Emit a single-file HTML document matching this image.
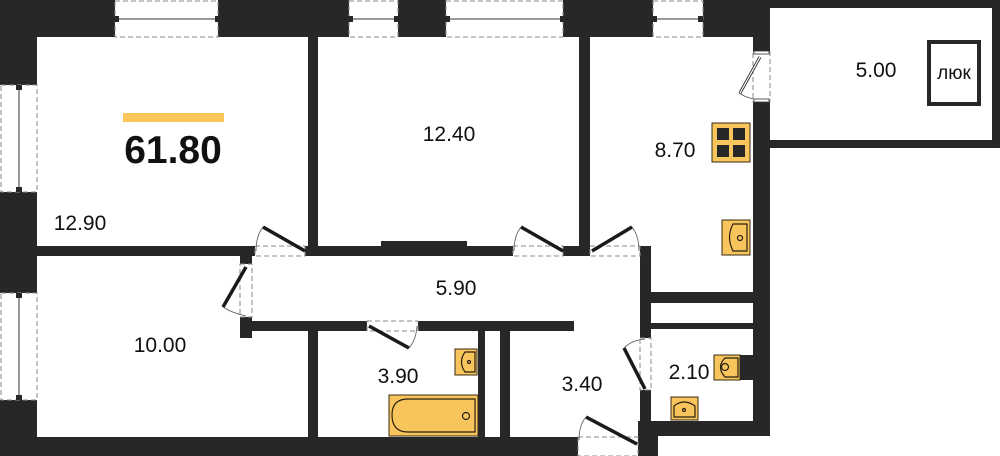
<!DOCTYPE html>
<html><head><meta charset="utf-8"><style>
html,body{margin:0;padding:0;background:#fff;}
svg{display:block;}
text{font-family:"Liberation Sans","DejaVu Sans",sans-serif;fill:#111;}
</style></head><body>
<svg width="1000" height="456" viewBox="0 0 1000 456" xmlns="http://www.w3.org/2000/svg">
<g fill="#272727">
<!-- top wall -->
<rect x="0" y="0" width="115" height="37"/>
<rect x="218" y="0" width="131" height="37"/>
<rect x="398" y="0" width="48" height="37"/>
<rect x="563" y="0" width="90" height="37"/>
<rect x="703" y="0" width="67" height="37"/>
<!-- balcony -->
<rect x="703" y="0" width="297" height="8"/>
<rect x="992" y="0" width="8" height="148"/>
<rect x="753" y="140" width="247" height="8"/>
<rect x="753" y="0" width="17" height="52"/>
<rect x="753" y="102" width="17" height="334"/>
<!-- left wall -->
<rect x="0" y="0" width="37" height="85"/>
<rect x="0" y="192" width="37" height="101"/>
<rect x="0" y="400" width="37" height="56"/>
<!-- bottom wall -->
<rect x="0" y="437" width="578" height="19"/>
<rect x="638" y="421" width="20" height="35"/>
<rect x="640" y="421" width="130" height="15"/>
<!-- interior -->
<rect x="308" y="37" width="10" height="219"/>
<rect x="579" y="37" width="11" height="219"/>
<rect x="37" y="246" width="218" height="10"/>
<rect x="305" y="246" width="208" height="10"/>
<rect x="381" y="241" width="86" height="6"/>
<rect x="563" y="246" width="27" height="10"/>
<rect x="640" y="246" width="11" height="92"/>
<rect x="640" y="390" width="11" height="47"/>
<rect x="651" y="292" width="102" height="11"/>
<rect x="651" y="323" width="102" height="6"/>
<rect x="240" y="256" width="12" height="8"/>
<rect x="240" y="317" width="12" height="21"/>
<rect x="240" y="321" width="127" height="10"/>
<rect x="418" y="321" width="156" height="10"/>
<rect x="308" y="331" width="10" height="106"/>
<rect x="478" y="331" width="7" height="106"/>
<rect x="500" y="331" width="10" height="106"/>
</g>
<!-- windows -->
<g fill="none" stroke="#888" stroke-width="1" stroke-dasharray="5,3">
<rect x="115" y="1" width="103" height="36"/>
<rect x="349" y="1" width="49" height="36"/>
<rect x="446" y="1" width="117" height="36"/>
<rect x="653" y="1" width="50" height="36"/>
<rect x="1" y="85" width="36" height="107"/>
<rect x="1" y="293" width="36" height="107"/>
<!-- door openings -->
<rect x="255" y="246" width="50" height="10"/>
<rect x="513" y="246" width="50" height="10"/>
<rect x="590" y="246" width="50" height="10"/>
<rect x="240" y="264" width="12" height="53"/>
<rect x="367" y="321" width="51" height="10"/>
<rect x="578" y="437" width="60" height="19"/>
<rect x="640" y="338" width="11" height="52"/>
<rect x="753" y="52" width="17" height="50"/>
</g>
<g stroke="#333" stroke-width="1">
<line x1="118" y1="19" x2="215" y2="19"/>
<line x1="352" y1="19" x2="395" y2="19"/>
<line x1="449" y1="19" x2="560" y2="19"/>
<line x1="656" y1="19" x2="700" y2="19"/>
<line x1="19" y1="88" x2="19" y2="189"/>
<line x1="19" y1="296" x2="19" y2="397"/>
</g>
<g fill="#272727">
<rect x="114" y="16" width="5" height="6"/><rect x="215" y="16" width="5" height="6"/>
<rect x="348" y="16" width="5" height="6"/><rect x="394" y="16" width="5" height="6"/>
<rect x="445" y="16" width="5" height="6"/><rect x="560" y="16" width="5" height="6"/>
<rect x="652" y="16" width="5" height="6"/><rect x="698" y="16" width="5" height="6"/>
<rect x="16" y="85" width="6" height="5"/><rect x="16" y="187" width="6" height="5"/>
<rect x="16" y="293" width="6" height="5"/><rect x="16" y="395" width="6" height="5"/>
</g>
<!-- door leaves -->
<g stroke="#1a1a1a" stroke-width="3.5" stroke-linecap="butt">
<line x1="305" y1="251" x2="263" y2="227"/>
<line x1="563" y1="251" x2="521" y2="227"/>
<line x1="592" y1="251" x2="632" y2="227"/>
<line x1="246" y1="267" x2="223" y2="307"/>
<line x1="369" y1="326" x2="409" y2="348"/>
<line x1="637" y1="444" x2="586" y2="417"/>
<line x1="645" y1="389" x2="624" y2="348"/>
</g>
<g fill="none" stroke="#555" stroke-width="0.8">
<path d="M263 227 Q256 236 256 251"/>
<path d="M521 227 Q514 236 514 251"/>
<path d="M632 227 Q639 236 639 251"/>
<path d="M223 307 Q232 313 246 316"/>
<path d="M409 348 Q416 340 417 326"/>
<path d="M586 417 Q579 425 579 440"/>
<path d="M624 348 Q632 340 645 339"/>
<path d="M739 93 Q748 99 760 100"/>
</g>
<line x1="760" y1="57" x2="740" y2="93" stroke="#333" stroke-width="3"/>
<line x1="760" y1="57" x2="740" y2="93" stroke="#fff" stroke-width="1.2"/>
<rect x="754" y="51" width="15" height="3" fill="#fff" stroke="#333" stroke-width="0.8"/>
<rect x="754" y="99" width="15" height="3" fill="#fff" stroke="#333" stroke-width="0.8"/>
<!-- fixtures -->
<g stroke="#3a2a10" stroke-width="1">
<rect x="712" y="123" width="38" height="39" fill="#f7c55c"/>
<rect x="417" y="376" width="0" height="0"/>
</g>
<g fill="#272727">
<rect x="717" y="128" width="12" height="12"/><rect x="733" y="128" width="12" height="12"/>
<rect x="717" y="145" width="12" height="12"/><rect x="733" y="145" width="12" height="12"/>
</g>
<g fill="#f7c55c" stroke="#3a2a10" stroke-width="1">
<rect x="722" y="220" width="28" height="35"/>
<rect x="455" y="349" width="22" height="26"/>
<rect x="389" y="395" width="89" height="41"/>
<rect x="714" y="355" width="26" height="25"/>
<rect x="671" y="397" width="27" height="23"/>
</g>
<g fill="none" stroke="#2a2010" stroke-width="1.2">
<path d="M747 224 L733 224 Q726 237 733 251 L747 251 Z"/>
<path d="M475 352 L465 352 Q458 362 465 372 L475 372 Z"/>
<path d="M475 399 L408 399 Q392 399 392 415 Q392 432 408 432 L475 432 Z"/>
<path d="M738 358 L725 358 Q716 367 725 377 L738 377 Z"/>
<path d="M674 417 L674 406 Q684 398 695 406 L695 417 Z"/>
<circle cx="740" cy="238" r="2.5"/><circle cx="469" cy="362" r="1.5"/>
<circle cx="466" cy="416" r="3.5"/><circle cx="725" cy="367" r="3.5"/>
<circle cx="684" cy="410" r="1.5"/>
</g>
<rect x="740" y="355" width="13" height="25" fill="#272727"/>
<!-- hatch -->
<rect x="929" y="42" width="50" height="62" fill="none" stroke="#272727" stroke-width="4"/>
<text x="954" y="79" font-size="19" text-anchor="middle" font-family="Liberation Sans, DejaVu Sans, sans-serif">люк</text>
<!-- labels -->
<rect x="123" y="113" width="101" height="9" fill="#f9c65a"/>
<text x="173" y="163" font-size="39" font-weight="bold" text-anchor="middle">61.80</text>
<g font-size="21" text-anchor="middle">
<text x="80" y="230">12.90</text>
<text x="449" y="141">12.40</text>
<text x="675" y="157">8.70</text>
<text x="876" y="77">5.00</text>
<text x="160" y="352">10.00</text>
<text x="456" y="295">5.90</text>
<text x="398" y="383">3.90</text>
<text x="582" y="391">3.40</text>
<text x="689" y="379">2.10</text>
</g>
</svg>
</body></html>
